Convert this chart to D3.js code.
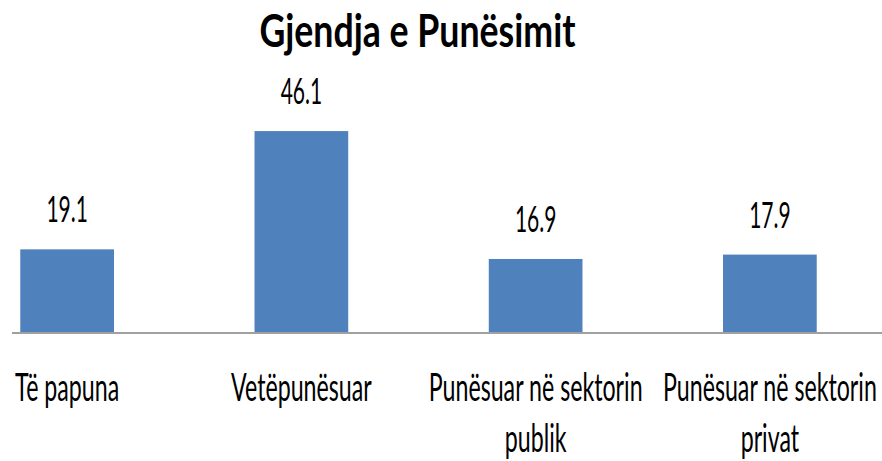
<!DOCTYPE html>
<html>
<head>
<meta charset="utf-8">
<script src="https://cdn.jsdelivr.net/npm/d3@7"></script>
<style>
  html, body { margin: 0; padding: 0; background: #fff; }
  svg { display: block; }
  text { font-family: Lato, "Noto Sans", sans-serif; fill: #000; }
</style>
</head>
<body>
<svg id="chart" width="882" height="461"></svg>
<script>
const title = "Gjendja e Punësimit";
const categories = ["Të papuna", "Vetëpunësuar", "Punësuar në sektorin publik", "Punësuar në sektorin privat"];
const categoryLines = [["Të papuna"], ["Vetëpunësuar"], ["Punësuar në sektorin", "publik"], ["Punësuar në sektorin", "privat"]];
const values = [19.1, 46.1, 16.9, 17.9];

const svg = d3.select("#chart");
const baseY = 333;

const x = d3.scaleBand().domain(categories).range([-50, 887]).paddingInner(0.6).paddingOuter(0.3);
const y = d3.scaleLinear().domain([0, 50]).range([baseY, baseY - 219]);

// bars
svg.append("g").selectAll("rect").data(values).join("rect")
  .attr("x", (d, i) => x(categories[i]))
  .attr("width", x.bandwidth())
  .attr("y", d => y(d))
  .attr("height", d => y(0) - y(d))
  .attr("fill", "#4F81BD");

// axis line
const axis = d3.axisBottom(x).tickSize(0).tickFormat("");
const ag = svg.append("g").attr("transform", `translate(0,${baseY})`).call(axis);
ag.select(".domain").attr("d", "M12,0H882").attr("stroke", "#A0A0A0").attr("stroke-width", 2);

// title
svg.append("text")
  .attr("transform", "translate(417.5,47) scale(1.19,1.54)")
  .attr("text-anchor", "middle")
  .attr("font-size", 30)
  .attr("font-weight", "bold")
  .text(title);

// value labels
svg.append("g").selectAll("text").data(values).join("text")
  .attr("transform", (d, i) => `translate(${x(categories[i]) + x.bandwidth() / 2},${y(d) - 27}) scale(1.05,1.82)`)
  .attr("text-anchor", "middle")
  .attr("font-size", 20)
  .text(d => d.toFixed(1));

// category labels
const cg = svg.append("g").selectAll("g").data(categoryLines).join("g");
cg.each(function (lines, i) {
  const cx = x(categories[i]) + x.bandwidth() / 2;
  d3.select(this).selectAll("text").data(lines).join("text")
    .attr("transform", (l, j) => `translate(${cx},${401 + j * 51}) scale(1.16,1.95)`)
    .attr("text-anchor", "middle")
    .attr("font-size", 20)
    .text(l => l);
});
</script>
</body>
</html>
